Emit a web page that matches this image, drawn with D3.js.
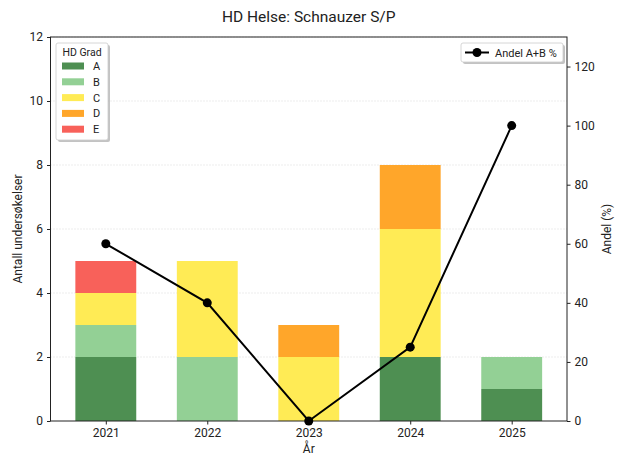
<!DOCTYPE html>
<html><head><meta charset="utf-8">
<script src="https://cdn.jsdelivr.net/npm/d3@7"></script>
<style>body{margin:0;background:#fff;} svg{display:block;font-family:Roboto,"Open Sans",sans-serif;}</style>
</head><body>
<svg id="chart" width="621" height="458"></svg>
<script>
const years = ["2021","2022","2023","2024","2025"];
const grades = ["A","B","C","D","E"];
const gradeA = [2,0,0,2,1];
const gradeB = [1,2,0,0,1];
const gradeC = [1,3,2,4,0];
const gradeD = [0,0,1,2,0];
const gradeE = [1,0,0,0,0];
const andelAB = [60,40,0,25,100];
const colors = ["#4e8f52","#93d095","#ffeb55","#ffa62a","#f8615a"];
const leftTicks = [0,2,4,6,8,10,12];
const rightTicks = [0,20,40,60,80,100,120];

const svg = d3.select("#chart");
const L=50.5, R=567, T=37, B=421;
const x = d3.scaleLinear().domain([-0.545,4.545]).range([L,R]);
const y = d3.scaleLinear().domain([0,12]).range([B,T]);
const y2 = d3.scaleLinear().domain([0,130]).range([B,T]);
const bw = x(0.3)-x(0);

// grid
svg.append("g").selectAll("line").data(leftTicks.filter(t=>t>0)).join("line")
  .attr("x1",L).attr("x2",R).attr("y1",d=>y(d)).attr("y2",d=>y(d))
  .attr("stroke","#d0d0d0").attr("stroke-width",0.8).attr("stroke-dasharray","1,2");

const series = [gradeA,gradeB,gradeC,gradeD,gradeE];
const rows = years.map((yr,i)=>{const o={i}; grades.forEach((g,k)=>o[g]=series[k][i]); return o;});
const stack = d3.stack().keys(grades)(rows);
svg.append("g").selectAll("g").data(stack).join("g").attr("fill",(d,k)=>colors[k])
  .selectAll("rect").data(d=>d).join("rect")
  .attr("x",d=>x(d.data.i)-bw).attr("width",bw*2)
  .attr("y",d=>y(d[1])).attr("height",d=>y(d[0])-y(d[1]));

// axes
const fs = "12px";
const ax = svg.append("g").attr("transform",`translate(0,${B})`)
  .call(d3.axisBottom(x).tickValues([0,1,2,3,4]).tickFormat(i=>years[i]).tickSize(3.5).tickPadding(4));
const ay = svg.append("g").attr("transform",`translate(${L},0)`)
  .call(d3.axisLeft(y).tickValues(leftTicks).tickSize(3.5).tickPadding(4));
const ay2 = svg.append("g").attr("transform",`translate(${R},0)`)
  .call(d3.axisRight(y2).tickValues(rightTicks).tickSize(3.5).tickPadding(4));
[ax,ay,ay2].forEach(a=>{a.select(".domain").remove();a.selectAll("line").attr("stroke","#222");a.selectAll("text").attr("font-size",fs).attr("fill","#222").attr("font-family","Roboto,sans-serif");});
svg.append("rect").attr("x",L).attr("y",T).attr("width",R-L).attr("height",B-T)
  .attr("fill","none").attr("stroke","#222").attr("stroke-width",1);

// line
const line = d3.line().x((d,i)=>x(i)).y(d=>y2(d));
svg.append("path").datum(andelAB).attr("d",line).attr("fill","none").attr("stroke","#000").attr("stroke-width",2);
svg.append("g").selectAll("circle").data(andelAB).join("circle")
  .attr("cx",(d,i)=>x(i)).attr("cy",d=>y2(d)).attr("r",4.5).attr("fill","#000");

// labels
svg.append("text").attr("x",(L+R)/2).attr("y",22).attr("text-anchor","middle").attr("font-size","15.5px").attr("fill","#222").text("HD Helse: Schnauzer S/P");
svg.append("text").attr("x",(L+R)/2).attr("y",453).attr("text-anchor","middle").attr("font-size","12px").attr("fill","#222").text("År");
svg.append("text").attr("transform",`translate(22,${(T+B)/2}) rotate(-90)`).attr("text-anchor","middle").attr("font-size","12px").attr("fill","#222").text("Antall undersøkelser");
svg.append("text").attr("transform",`translate(611,${(T+B)/2}) rotate(-90)`).attr("text-anchor","middle").attr("font-size","12px").attr("fill","#222").text("Andel (%)");

// legend left
const lg = svg.append("g").attr("transform","translate(56,43)");
lg.append("rect").attr("x",2).attr("y",2).attr("width",52).attr("height",97).attr("rx",2).attr("fill","#888").attr("opacity",0.5);
lg.append("rect").attr("x",0).attr("y",0).attr("width",52).attr("height",97).attr("rx",2).attr("fill","#fff").attr("stroke","#ccc").attr("stroke-width",0.8);
lg.append("text").attr("x",26).attr("y",13).attr("text-anchor","middle").attr("font-size","10.5px").attr("fill","#222").text("HD Grad");
grades.forEach((g,k)=>{
  const yy = 23 + k*15.8;
  lg.append("rect").attr("x",6).attr("y",yy-3.5).attr("width",22).attr("height",7).attr("fill",colors[k]);
  lg.append("text").attr("x",37).attr("y",yy+4).attr("font-size","11px").attr("fill","#222").text(g);
});

// legend right
const rg = svg.append("g").attr("transform","translate(461,43)");
rg.append("rect").attr("x",2).attr("y",2).attr("width",102).attr("height",19).attr("rx",2).attr("fill","#888").attr("opacity",0.5);
rg.append("rect").attr("x",0).attr("y",0).attr("width",102).attr("height",19).attr("rx",2).attr("fill","#fff").attr("stroke","#ccc").attr("stroke-width",0.8);
rg.append("line").attr("x1",4).attr("x2",28).attr("y1",9.5).attr("y2",9.5).attr("stroke","#000").attr("stroke-width",2);
rg.append("circle").attr("cx",16).attr("cy",9.5).attr("r",4.5).attr("fill","#000");
rg.append("text").attr("x",34).attr("y",13.5).attr("font-size","11px").attr("fill","#222").text("Andel A+B %");
</script>
</body></html>
